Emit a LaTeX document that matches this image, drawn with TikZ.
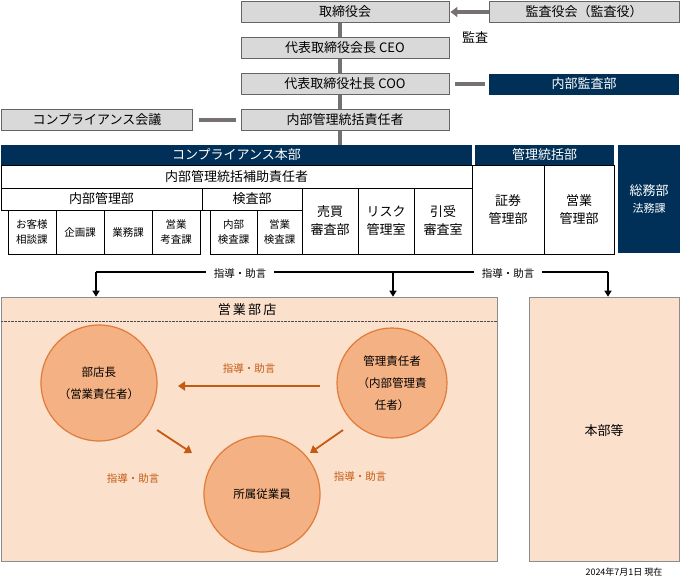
\documentclass[tikz,border=0pt]{standalone}
\usepackage{fontspec}
\setmainfont{Noto Sans CJK JP}
\usetikzlibrary{positioning, arrows.meta, calc}
\definecolor{navycolor}{RGB}{0,48,87}
\definecolor{boxgray}{RGB}{217,217,217}
\definecolor{linegray}{RGB}{118,113,113}
\definecolor{shopfill}{RGB}{251,224,204}
\definecolor{circlefill}{RGB}{244,177,131}
\definecolor{circledraw}{RGB}{224,123,57}
\definecolor{advicecolor}{RGB}{197,90,17}

\begin{document}
\begin{tikzpicture}[x=1pt, y=-1pt, inner sep=0pt,
    box/.style={rectangle, fill=boxgray, draw=black!60, line width=0.8pt, minimum width=208pt, minimum height=21pt, font=\fontsize{13}{15}\selectfont},
    navybox/.style={rectangle, fill=navycolor, text=white, minimum height=21pt, font=\fontsize{13}{15}\selectfont},
    cell/.style={rectangle, draw=black, line width=0.6pt, align=center, font=\fontsize{13}{18}\selectfont},
    small/.style={font=\fontsize{10.5}{15}\selectfont},
    link/.style={linegray, line width=4pt},
    unit/.style={rectangle, fill=shopfill, draw=black!45, line width=0.6pt},
    person/.style={circle, fill=circlefill, draw=circledraw, line width=1.2pt, minimum size=114pt, align=center, font=\fontsize{11.5}{22}\selectfont},
    advice/.style={-{Triangle[length=6pt, width=7pt]}, line width=1.3pt},
    orangearrow/.style={-{Triangle[length=7pt, width=9pt]}, advicecolor, line width=1.8pt}
]
    \useasboundingbox (0,0) rectangle (681,579);

    % === トップの組織 ===
    \node[box] (board) at (345, 12) {取締役会};
    \node[box, minimum width=190pt] (auditors) at (584, 12) {監査役会（監査役）};
    \node[box] (ceo) at (345, 48) {代表取締役会長 CEO};
    \node[box] (coo) at (345, 84) {代表取締役社長 COO};
    \node[navybox, minimum width=190pt] (internalaudit) at (584, 84) {内部監査部};
    \node[box] (chief) at (345, 120) {内部管理統括責任者};
    \node[box, minimum width=191pt] (meeting) at (97, 120) {コンプライアンス会議};
    \node[font=\fontsize{13}{15}\selectfont] (auditlabel) at (475, 37) {監査};
    \coordinate (hqtop) at (340, 145);

    \draw[link] (board.south -| hqtop) -- (ceo.north -| hqtop);
    \draw[link] (ceo.south -| hqtop) -- (coo.north -| hqtop);
    \draw[link] (coo.south -| hqtop) -- (chief.north -| hqtop);
    \draw[link] (chief.south -| hqtop) -- (hqtop);
    \draw[link, -{Triangle[length=7pt, width=10pt]}] (auditors.west) -- ($(board.east)+(1,0)$);
    \draw[link] ($(coo.east)+(6,0)$) -- ($(internalaudit.west)+(-4,0)$);
    \draw[link] ($(meeting.east)+(6,0)$) -- ($(chief.west)+(-5,0)$);

    % === コンプライアンス本部 ===
    \node[navybox, minimum width=471pt, minimum height=20pt] (compliance) at (236.5, 155) {コンプライアンス本部};
    \node[navybox, minimum width=139pt, minimum height=20pt] (control) at (544.5, 155) {管理統括部};
    \node[navybox, minimum width=62pt, minimum height=108pt, align=center] (general) at (649, 199)
        {総務部\\[2pt]{\fontsize{11}{13}\selectfont 法務課}};

    \node[cell, minimum width=471pt, minimum height=23pt] (assistant) at (236.5, 176.5) {内部管理統括補助責任者};
    \node[cell, minimum width=201pt, minimum height=22pt] (mgmtdept) at (101.5, 199) {内部管理部};
    \node[cell, minimum width=100pt, minimum height=22pt] (inspect) at (252, 199) {検査部};
    \node[cell, small, minimum width=48pt, minimum height=44pt] (c1) at (32, 232) {お客様\\相談課};
    \node[cell, small, minimum width=48pt, minimum height=44pt] (c2) at (80, 232) {企画課};
    \node[cell, small, minimum width=48pt, minimum height=44pt] (c3) at (128, 232) {業務課};
    \node[cell, small, minimum width=48pt, minimum height=44pt] (c4) at (176, 232) {営業\\考査課};
    \node[cell, small, minimum width=47pt, minimum height=44pt] (c5) at (233.5, 232) {内部\\検査課};
    \node[cell, small, minimum width=45pt, minimum height=44pt] (c6) at (279.5, 232) {営業\\検査課};
    \node[cell, minimum width=56pt, minimum height=66pt] (trade) at (330, 221) {売買\\審査部};
    \node[cell, minimum width=56pt, minimum height=66pt] (risk) at (386, 221) {リスク\\管理室};
    \node[cell, minimum width=58pt, minimum height=66pt] (underwrite) at (443, 221) {引受\\審査室};
    \node[cell, minimum width=72pt, minimum height=89pt] (securities) at (508, 209.5) {証券\\管理部};
    \node[cell, minimum width=70pt, minimum height=89pt] (sales) at (579, 209.5) {営業\\管理部};

    % === 営業部店・本部等 ===
    \node[unit, minimum width=496pt, minimum height=264pt] (branch) at (249, 429) {};
    \node[font=\fontsize{13}{15}\selectfont] (branchtitle) at (247, 310) {営\,業\,部\,店};
    \draw[densely dotted, black!70] (branch.west |- 0,321) -- (branch.east |- 0,321);
    \node[unit, minimum width=150pt, minimum height=264pt] (hq) at (604, 429) {};
    \node[font=\fontsize{13}{15}\selectfont] (hqlabel) at (604, 431) {本部等};

    \coordinate (splitleft) at (96, 272);
    \coordinate (splitmid) at (393, 272);
    \coordinate (splitright) at (608, 272);
    \node[small] (advicea) at (240, 274) {指導・助言};
    \node[small] (adviceb) at (508, 274) {指導・助言};
    \draw[line width=1.3pt] (splitleft) -- ($(advicea.west)+(-8,-2)$) ($(advicea.east)+(8,-2)$) -- ($(adviceb.west)+(-8,-2)$) ($(adviceb.east)+(8,-2)$) -- (splitright);
    \draw[advice] (splitleft) -- (splitleft |- branch.north);
    \draw[advice] (splitmid) -- (splitmid |- branch.north);
    \draw[advice] (splitright) -- (splitright |- hq.north);

    % === 部店内の関係 ===
    \node[person, minimum size=116pt] (manager) at (99, 383) {部店長\\（営業責任者）};
    \node[person, minimum size=110pt] (supervisor) at (392, 383) {管理責任者\\（内部管理責\\任者）};
    \node[person, minimum size=116pt] (staff) at (262, 494) {所属従業員};

    \draw[orangearrow] (320, 386) -- (178, 386);
    \draw[orangearrow] (157, 430) -- (192, 453);
    \draw[orangearrow] (343, 430) -- (310, 453);
    \node[small, advicecolor] (advicec) at (249, 369) {指導・助言};
    \node[small, advicecolor] (adviced) at (133, 479) {指導・助言};
    \node[small, advicecolor] (advicee) at (360, 477) {指導・助言};

    \node[font=\fontsize{9}{11}\selectfont] (date) at (624, 572) {2024年7月1日 現在};
\end{tikzpicture}
\end{document}
